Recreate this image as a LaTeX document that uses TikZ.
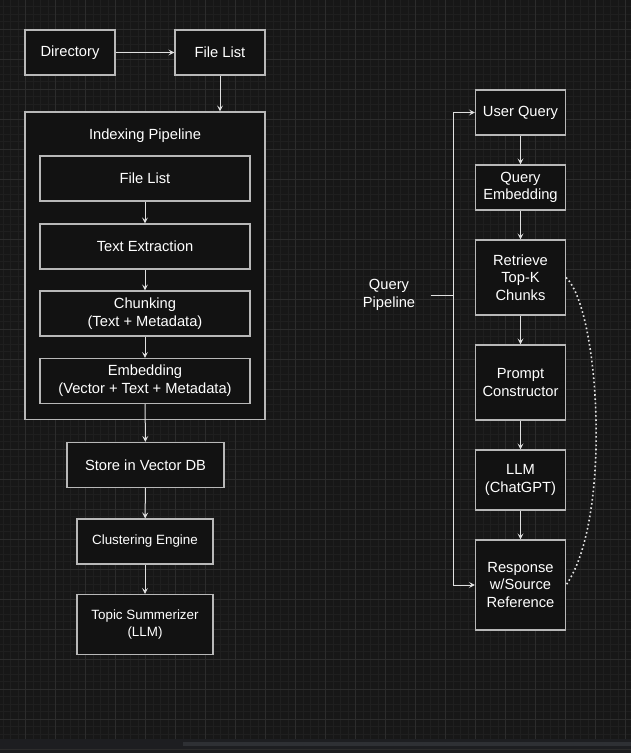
\documentclass[tikz,border=0pt]{standalone}
\usepackage{fontspec}
\setmainfont{Liberation Sans}
\usetikzlibrary{arrows.meta}
\definecolor{canvas}{HTML}{171717}
\definecolor{gridminor}{HTML}{1F1F1F}
\definecolor{gridmajor}{HTML}{2C2C2C}
\definecolor{boxfill}{HTML}{121212}
\definecolor{boxline}{HTML}{B8B8B8}
\definecolor{barfill}{HTML}{1D1E21}
\definecolor{thumb}{HTML}{2E3034}
\begin{document}
\begin{tikzpicture}[x = 1pt, y = -1pt, line width = 1pt,
                        box/.style = {rectangle, draw = boxline, fill = boxfill, line width = 1.1pt,
                                      text = white, align = center, inner sep = 0pt,
                                      font = \fontsize{14.7}{17.7}\selectfont},
                        smallbox/.style = {box, font = \fontsize{13.4}{17.7}\selectfont},
                        label/.style = {text = white, align = center, inner sep = 0pt,
                                        font = \fontsize{14.7}{17.7}\selectfont},
                        arr/.style = {draw = white!88!black, -{Stealth[length = 6pt, width = 6pt, inset = 2.5pt]}},
                        link/.style = {draw = white!88!black},
                        dots/.style = {draw = white!90!black, line width = 1.6pt, dash pattern = on 1.6pt off 2.6pt}]
      \useasboundingbox (0, 0) rectangle (631, 753);
      \fill [canvas] (0, 0) rectangle (631, 739);
      \foreach \gx in {3.2, 10.7, ..., 631}
        \draw [gridminor, line width = 0.8pt] (\gx, 0) -- (\gx, 739);
      \foreach \gy in {6.5, 14, ..., 739}
        \draw [gridminor, line width = 0.8pt] (0, \gy) -- (631, \gy);
      \foreach \gx in {25.7, 55.7, ..., 631}
        \draw [gridmajor, line width = 0.9pt] (\gx, 0) -- (\gx, 739);
      \foreach \gy in {29, 59, ..., 739}
        \draw [gridmajor, line width = 0.9pt] (0, \gy) -- (631, \gy);
      \fill [barfill] (0, 739) rectangle (631, 753);
      \fill [thumb] (183, 742) rectangle (631, 746);
      \draw [gridmajor] (0, 749.5) -- (631, 749.5);
      % indexing side
      \node [box, minimum width = 90pt, minimum height = 45pt] (dir) at (70, 52.5){Directory};
      \node [box, minimum width = 90pt, minimum height = 45pt] (files) at (220, 52.5){File List};
      \node [box, minimum width = 240pt, minimum height = 307.5pt] (index) at (145, 265.75){};
      \node [label] (indextitle) at (145, 136){Indexing Pipeline};
      \node [box, minimum width = 210pt, minimum height = 45pt] (inlist) at (145, 178.5){File List};
      \node [box, minimum width = 210pt, minimum height = 45pt] (extract) at (145, 246.5){Text Extraction};
      \node [box, minimum width = 210pt, minimum height = 45pt] (chunk) at (145, 313.5){Chunking\\(Text + Metadata)};
      \node [box, minimum width = 210pt, minimum height = 45pt] (embed) at (145, 381){Embedding\\(Vector + Text + Metadata)};
      \node [box, minimum width = 157pt, minimum height = 45pt] (store) at (145.5, 465){Store in Vector DB};
      \node [smallbox, minimum width = 136pt, minimum height = 45pt] (cluster) at (145, 541.5){Clustering Engine};
      \node [smallbox, minimum width = 136pt, minimum height = 60pt] (topic) at (145, 624.5){Topic Summerizer\\(LLM)};
      \draw [arr] (dir) -- (files);
      \draw [arr] (files) -- (files |- index.north);
      \draw [arr] (inlist) -- (extract);
      \draw [arr] (extract) -- (chunk);
      \draw [arr] (chunk) -- (embed);
      \draw [arr] (embed) -- (store);
      \draw [arr] (store) -- (cluster);
      \draw [arr] (cluster) -- (topic);
      % query side
      \node [box, minimum width = 90pt, minimum height = 45pt] (uquery) at (520.5, 112.5){User Query};
      \node [box, minimum width = 90pt, minimum height = 45pt] (qembed) at (520.5, 187.5){Query\\Embedding};
      \node [box, minimum width = 90pt, minimum height = 75pt] (retrieve) at (520.5, 277.5){Retrieve\\Top-K\\Chunks};
      \node [box, minimum width = 90pt, minimum height = 75pt] (prompt) at (520.5, 382.5){Prompt\\Constructor};
      \node [box, minimum width = 90pt, minimum height = 60pt] (llm) at (520.5, 480){LLM\\(ChatGPT)};
      \node [box, minimum width = 90pt, minimum height = 90pt] (resp) at (520.5, 585){Response\\w/Source\\Reference};
      \node [label, minimum width = 82pt] (qpipe) at (389, 295){Query\\Pipeline};
      \coordinate (qjoin) at (453, 295);
      \draw [arr] (uquery) -- (qembed);
      \draw [arr] (qembed) -- (retrieve);
      \draw [arr] (retrieve) -- (prompt);
      \draw [arr] (prompt) -- (llm);
      \draw [arr] (llm) -- (resp);
      \draw [link] (qpipe.east) -- (qjoin);
      \draw [arr] (qjoin) |- (uquery.west);
      \draw [arr] (qjoin) |- (resp.west);
      \draw [dots] (retrieve.east) .. controls (600, 310) and (612, 520) .. (resp.east);
    \end{tikzpicture}
\end{document}
